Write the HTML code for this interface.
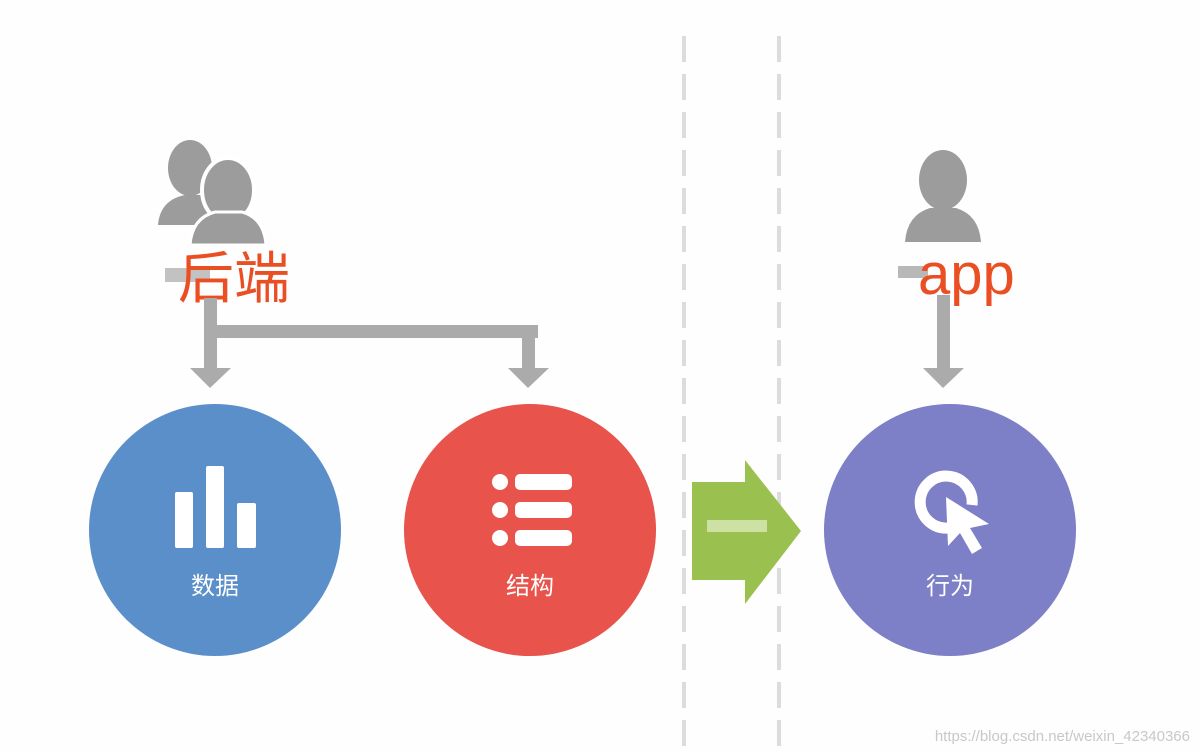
<!DOCTYPE html>
<html><head><meta charset="utf-8"><style>
html,body{margin:0;padding:0;background:#fff;}
svg{display:block;}
text{font-family:"Liberation Sans","Noto Sans CJK SC",sans-serif;}
</style></head><body>
<svg width="1200" height="752" viewBox="0 0 1200 752">
<rect width="1200" height="752" fill="#fefefe"/>
<line x1="684" y1="36" x2="684" y2="752" stroke="#dcdcdc" stroke-width="4" stroke-dasharray="26 12"/>
<line x1="779" y1="36" x2="779" y2="752" stroke="#dcdcdc" stroke-width="4" stroke-dasharray="26 12"/>
<!-- persons -->
<g fill="#9c9c9c">
<ellipse cx="190" cy="168" rx="22" ry="28"/>
<path d="M158 225 Q160 200 185 195 L200 195 Q215 200 220 215 L220 225 Z"/>
<ellipse cx="228" cy="190" rx="26" ry="32" stroke="#fff" stroke-width="4"/>
<path d="M190 245 Q192 218 215 212 L242 212 Q264 218 266 245 Z" stroke="#fff" stroke-width="3"/>
<ellipse cx="943" cy="180" rx="24" ry="30"/>
<path d="M905 242 Q907 215 930 208 L956 208 Q979 215 981 242 Z"/>
</g>
<rect x="165" y="268" width="45" height="14" fill="#999" opacity=".6"/>
<rect x="898" y="266" width="30" height="12" fill="#888" opacity=".6"/>
<text x="178" y="298" font-size="56" fill="#ea4f24">后端</text>
<text x="918" y="294" font-size="58" fill="#ea4f24">app</text>
<!-- connectors -->
<g fill="#ababab">
<rect x="204" y="298" width="13" height="72"/>
<rect x="204" y="325" width="334" height="13"/>
<rect x="522" y="325" width="13" height="45"/>
<polygon points="190,368 231,368 210,388"/>
<polygon points="508,368 549,368 528,388"/>
<rect x="937" y="295" width="13" height="75"/>
<polygon points="923,368 964,368 943,388"/>
</g>
<!-- circles -->
<circle cx="215" cy="530" r="126" fill="#5b8fca"/>
<circle cx="530" cy="530" r="126" fill="#e8534c"/>
<circle cx="950" cy="530" r="126" fill="#7d7fc7"/>
<g fill="#fff">
<rect x="175" y="492" width="18" height="56" rx="2"/>
<rect x="206" y="466" width="18" height="82" rx="2"/>
<rect x="237" y="503" width="19" height="45" rx="2"/>
<circle cx="500" cy="482" r="8"/><circle cx="500" cy="510" r="8"/><circle cx="500" cy="538" r="8"/>
<rect x="515" y="474" width="57" height="16" rx="5"/>
<rect x="515" y="502" width="57" height="16" rx="5"/>
<rect x="515" y="530" width="57" height="16" rx="5"/>
</g>
<path d="M948 528 A26 26 0 1 1 972 505" fill="none" stroke="#fff" stroke-width="11"/>
<polygon points="946,497 989,524 970,528 982,548 972,554 960,533 948,546" fill="#fff"/>
<g font-size="24" fill="#fff" text-anchor="middle">
<text x="215" y="594">数据</text>
<text x="530" y="594">结构</text>
<text x="950" y="594">行为</text>
</g>
<!-- green arrow -->
<polygon points="692,482 745,482 745,460 801,531 745,604 745,580 692,580" fill="#9ac150"/>
<rect x="707" y="520" width="60" height="12" fill="#d8e8b8" opacity=".8"/>
<text x="1190" y="741" font-size="15" fill="#c8c8c8" text-anchor="end">https://blog.csdn.net/weixin_42340366</text>
</svg>
</body></html>
